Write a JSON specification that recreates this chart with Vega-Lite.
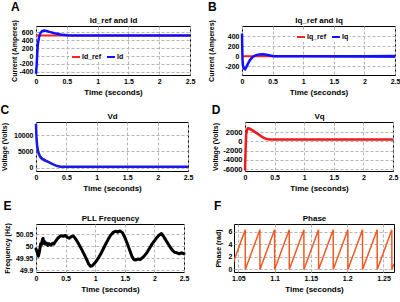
{
"$schema": "https://vega.github.io/schema/vega-lite/v6.json",
"background": "white",
"padding": {"left": 0, "top": 0, "right": 0, "bottom": 0},
"config": {
  "font": "Liberation Sans",
  "view": {"stroke": "black", "strokeWidth": 1},
  "axis": {"labelFontSize": 7, "labelFontWeight": "bold", "labelColor": "black", "titleFontWeight": "bold", "titleColor": "black", "gridColor": "#b4b4b4", "gridDash": [3, 2], "domain": false, "ticks": false, "labelOverlap": false, "labelFlush": false, "minExtent": 0},
  "axisX": {"titleFontSize": 8, "labelPadding": 2, "titlePadding": 4},
  "axisY": {"titleFontSize": 7, "labelPadding": 3},
  "title": {"fontSize": 12, "fontWeight": "bold", "color": "black", "anchor": "start", "offset": 0}
},
"resolve": {"scale": {"color": "independent"}, "legend": {"color": "independent"}},
"spacing": 6,
"vconcat": [
 {"hconcat": [
   {"width": 154, "height": 49, "title": {"text": "A", "offset": 2},
    "resolve": {"axis": {"x": "independent"}},
    "layer": [
     {"data": {"values": [{"t": 0, "v": 520, "s": "Id_ref"}, {"t": 2.5, "v": 520, "s": "Id_ref"}]},
      "mark": {"type": "line", "strokeWidth": 2},
      "encoding": {
        "x": {"field": "t", "type": "quantitative", "scale": {"domain": [0, 2.5], "nice": false}, "axis": {"orient": "bottom", "values": [0, 0.5, 1, 1.5, 2, 2.5], "tickCount": 20, "title": "Time (seconds)", "labelExpr": "'' + datum.value", "labelOverlap": false, "minExtent": 0}},
        "y": {"field": "v", "type": "quantitative", "scale": {"domain": [-480, 760], "nice": false}, "axis": {"values": [-400, -200, 0, 200, 400, 600], "tickCount": 20, "title": "Current (Amperes)", "titlePadding": 1, "labelExpr": "'' + datum.value", "labelOverlap": false, "minExtent": 0}},
        "color": {"field": "s", "type": "nominal", "scale": {"domain": ["Id_ref", "Id"], "range": ["#ff2020", "#1010ff"]},
          "legend": {"orient": "none", "legendX": 34, "legendY": 25, "direction": "horizontal", "title": null, "symbolType": "stroke", "symbolStrokeWidth": 2, "symbolSize": 64, "labelFontSize": 7, "labelFontWeight": "bold", "fillColor": "white", "padding": 1, "columnPadding": 1, "labelOffset": 1}}
      }},
     {"data": {"values": [
       {"t": 0, "v": -450, "s": "Id"}, {"t": 0.01, "v": -250, "s": "Id"}, {"t": 0.02, "v": 50, "s": "Id"}, {"t": 0.03, "v": 300, "s": "Id"},
       {"t": 0.05, "v": 480, "s": "Id"}, {"t": 0.07, "v": 580, "s": "Id"}, {"t": 0.1, "v": 630, "s": "Id"}, {"t": 0.13, "v": 645, "s": "Id"},
       {"t": 0.17, "v": 635, "s": "Id"}, {"t": 0.22, "v": 610, "s": "Id"}, {"t": 0.3, "v": 575, "s": "Id"}, {"t": 0.4, "v": 545, "s": "Id"},
       {"t": 0.5, "v": 528, "s": "Id"}, {"t": 0.6, "v": 522, "s": "Id"}, {"t": 2.5, "v": 520, "s": "Id"}]},
      "mark": {"type": "line", "strokeWidth": 2.5},
      "encoding": {
        "x": {"field": "t", "type": "quantitative", "axis": {"orient": "top", "title": "Id_ref and Id", "labels": false, "grid": false, "labelPadding": 0, "titlePadding": 2, "minExtent": 0, "maxExtent": 0}},
        "y": {"field": "v", "type": "quantitative"},
        "color": {"field": "s", "type": "nominal"}
      }}
    ]},
   {"width": 153, "height": 49, "title": {"text": "B", "offset": 2},
    "resolve": {"axis": {"x": "independent"}},
    "layer": [
     {"data": {"values": [{"t": 0, "v": 0, "s": "Iq_ref"}, {"t": 2.5, "v": 0, "s": "Iq_ref"}]},
      "mark": {"type": "line", "strokeWidth": 2},
      "encoding": {
        "x": {"field": "t", "type": "quantitative", "scale": {"domain": [0, 2.5], "nice": false}, "axis": {"orient": "bottom", "values": [0, 0.5, 1, 1.5, 2, 2.5], "tickCount": 20, "title": "Time (seconds)", "labelExpr": "'' + datum.value", "labelOverlap": false, "minExtent": 0}},
        "y": {"field": "v", "type": "quantitative", "scale": {"domain": [-370, 600], "nice": false}, "axis": {"values": [-200, 0, 200, 400], "tickCount": 20, "title": "Current (Amperes)", "titlePadding": 10, "labelExpr": "'' + datum.value", "labelOverlap": false, "minExtent": 0}},
        "color": {"field": "s", "type": "nominal", "scale": {"domain": ["Iq_ref", "Iq"], "range": ["#ff2020", "#1010ff"]},
          "legend": {"orient": "none", "legendX": 53, "legendY": 5, "direction": "horizontal", "title": null, "symbolType": "stroke", "symbolStrokeWidth": 2, "symbolSize": 64, "labelFontSize": 7, "labelFontWeight": "bold", "fillColor": "white", "padding": 1, "columnPadding": 1, "labelOffset": 1}}
      }},
     {"data": {"values": [
       {"t": 0, "v": 450, "s": "Iq"}, {"t": 0.004, "v": 200, "s": "Iq"}, {"t": 0.008, "v": -50, "s": "Iq"}, {"t": 0.015, "v": -180, "s": "Iq"},
       {"t": 0.03, "v": -240, "s": "Iq"}, {"t": 0.05, "v": -255, "s": "Iq"}, {"t": 0.07, "v": -215, "s": "Iq"}, {"t": 0.1, "v": -140, "s": "Iq"},
       {"t": 0.13, "v": -75, "s": "Iq"}, {"t": 0.17, "v": -20, "s": "Iq"}, {"t": 0.22, "v": 20, "s": "Iq"}, {"t": 0.28, "v": 38, "s": "Iq"},
       {"t": 0.34, "v": 42, "s": "Iq"}, {"t": 0.4, "v": 32, "s": "Iq"}, {"t": 0.46, "v": 15, "s": "Iq"}, {"t": 0.52, "v": 3, "s": "Iq"},
       {"t": 0.6, "v": 0, "s": "Iq"}, {"t": 2.5, "v": 0, "s": "Iq"}]},
      "mark": {"type": "line", "strokeWidth": 2.5},
      "encoding": {
        "x": {"field": "t", "type": "quantitative", "axis": {"orient": "top", "title": "Iq_ref and Iq", "labels": false, "grid": false, "labelPadding": 0, "titlePadding": 2, "minExtent": 0, "maxExtent": 0}},
        "y": {"field": "v", "type": "quantitative"},
        "color": {"field": "s", "type": "nominal"}
      }},
     {"data": {"values": [
       {"t": 0.5, "lo": -8, "hi": 8}, {"t": 1, "lo": -15, "hi": 15}, {"t": 1.5, "lo": -20, "hi": 20}, {"t": 2, "lo": -25, "hi": 25}, {"t": 2.5, "lo": -30, "hi": 30}]},
      "mark": {"type": "area", "color": "#1010ff"},
      "encoding": {
        "y": {"field": "lo", "type": "quantitative"},
        "y2": {"field": "hi"},
        "x": {"field": "t", "type": "quantitative", "axis": null}
      }}
    ]}
 ], "spacing": 11, "resolve": {"scale": {"color": "independent"}, "legend": {"color": "independent"}}},
 {"hconcat": [
   {"width": 152, "height": 49, "title": {"text": "C", "offset": -5},
    "resolve": {"axis": {"x": "independent"}},
    "layer": [
     {"data": {"values": [
       {"t": 0.02, "lo": 5800, "hi": 7400}, {"t": 0.05, "lo": 3700, "hi": 4900}, {"t": 0.08, "lo": 2800, "hi": 3700}, {"t": 0.12, "lo": 2200, "hi": 3000},
       {"t": 0.18, "lo": 1700, "hi": 2400}, {"t": 0.24, "lo": 1150, "hi": 1750}, {"t": 0.3, "lo": 650, "hi": 1100}, {"t": 0.36, "lo": 380, "hi": 620}, {"t": 0.42, "lo": 260, "hi": 380}]},
      "mark": {"type": "area", "color": "#1a1ae6"},
      "encoding": {
        "x": {"field": "t", "type": "quantitative", "scale": {"domain": [0, 2.5], "nice": false}, "axis": {"orient": "bottom", "values": [0, 0.5, 1, 1.5, 2, 2.5], "tickCount": 20, "title": "Time (seconds)", "labelExpr": "'' + datum.value", "labelOverlap": false, "minExtent": 0}},
        "y": {"field": "lo", "type": "quantitative", "scale": {"domain": [-1000, 14000], "nice": false}, "axis": {"values": [0, 5000, 10000], "tickCount": 20, "title": "Voltage (Volts)", "titlePadding": 6, "labelExpr": "'' + datum.value", "labelOverlap": false, "minExtent": 0}},
        "y2": {"field": "hi"}
      }},
     {"data": {"values": [
       {"t": 0, "v": 13500}, {"t": 0.004, "v": 11000}, {"t": 0.01, "v": 8500}, {"t": 0.02, "v": 6500}, {"t": 0.04, "v": 4500}, {"t": 0.07, "v": 3300},
       {"t": 0.1, "v": 2700}, {"t": 0.15, "v": 2200}, {"t": 0.2, "v": 1800}, {"t": 0.25, "v": 1300}, {"t": 0.3, "v": 850}, {"t": 0.35, "v": 500},
       {"t": 0.4, "v": 330}, {"t": 0.45, "v": 300}, {"t": 2.5, "v": 300}]},
      "mark": {"type": "line", "strokeWidth": 2.5, "color": "#1a1ae6"},
      "encoding": {
        "x": {"field": "t", "type": "quantitative", "axis": {"orient": "top", "title": "Vd", "labels": false, "grid": false, "labelPadding": 0, "titlePadding": 2, "minExtent": 0, "maxExtent": 0}},
        "y": {"field": "v", "type": "quantitative"}
      }}
    ]},
   {"width": 148, "height": 49, "title": {"text": "D", "offset": -5},
    "resolve": {"axis": {"x": "independent"}},
    "layer": [
     {"data": {"values": [
       {"t": 0.03, "lo": 2200, "hi": 3000}, {"t": 0.06, "lo": 2450, "hi": 3100}, {"t": 0.1, "lo": 2300, "hi": 2900}, {"t": 0.15, "lo": 1900, "hi": 2450},
       {"t": 0.2, "lo": 1500, "hi": 2000}, {"t": 0.25, "lo": 1100, "hi": 1500}, {"t": 0.3, "lo": 700, "hi": 1050}, {"t": 0.35, "lo": 450, "hi": 650}, {"t": 0.4, "lo": 380, "hi": 480}]},
      "mark": {"type": "area", "color": "#ee1c1c"},
      "encoding": {
        "x": {"field": "t", "type": "quantitative", "scale": {"domain": [0, 2.5], "nice": false}, "axis": {"orient": "bottom", "values": [0, 0.5, 1, 1.5, 2, 2.5], "tickCount": 20, "title": "Time (seconds)", "labelExpr": "'' + datum.value", "labelOverlap": false, "minExtent": 0}},
        "y": {"field": "lo", "type": "quantitative", "scale": {"domain": [-6400, 4200], "nice": false}, "axis": {"values": [-6000, -4000, -2000, 0, 2000], "tickCount": 20, "title": "Voltage (Volts)", "titlePadding": 4, "labelPadding": 3, "labelFontSize": 7.5, "labelExpr": "'' + datum.value", "labelOverlap": false, "minExtent": 0}},
        "y2": {"field": "hi"}
      }},
     {"data": {"values": [
       {"t": 0, "v": -6300}, {"t": 0.005, "v": -4000}, {"t": 0.012, "v": -1000}, {"t": 0.02, "v": 1500}, {"t": 0.035, "v": 2600}, {"t": 0.05, "v": 2850},
       {"t": 0.08, "v": 2700}, {"t": 0.12, "v": 2450}, {"t": 0.17, "v": 2050}, {"t": 0.22, "v": 1600}, {"t": 0.27, "v": 1150}, {"t": 0.32, "v": 750},
       {"t": 0.37, "v": 500}, {"t": 0.42, "v": 420}, {"t": 2.5, "v": 420}]},
      "mark": {"type": "line", "strokeWidth": 2.5, "color": "#ee1c1c"},
      "encoding": {
        "x": {"field": "t", "type": "quantitative", "axis": {"orient": "top", "title": "Vq", "labels": false, "grid": false, "labelPadding": 0, "titlePadding": 2, "minExtent": 0, "maxExtent": 0}},
        "y": {"field": "v", "type": "quantitative"}
      }}
    ]}
 ], "spacing": 17, "resolve": {"scale": {"color": "independent"}, "legend": {"color": "independent"}}},
 {"hconcat": [
   {"width": 148, "height": 48, "title": {"text": "E", "offset": 1},
    "resolve": {"axis": {"x": "independent"}},
    "layer": [
     {"data": {"values": [
      {"t": 0, "f": 49.988}, {"t": 0.01, "f": 49.982}, {"t": 0.02, "f": 49.975}, {"t": 0.03, "f": 49.965}, {"t": 0.04, "f": 49.958}, {"t": 0.05, "f": 49.968},
      {"t": 0.06, "f": 49.98}, {"t": 0.07, "f": 49.995}, {"t": 0.08, "f": 50.01}, {"t": 0.09, "f": 50.005}, {"t": 0.1, "f": 50.018}, {"t": 0.11, "f": 50.028},
      {"t": 0.12, "f": 50.032}, {"t": 0.13, "f": 50.012}, {"t": 0.14, "f": 50.02}, {"t": 0.16, "f": 50.008}, {"t": 0.18, "f": 50.012}, {"t": 0.2, "f": 50.003},
      {"t": 0.22, "f": 50.01}, {"t": 0.25, "f": 50.004}, {"t": 0.28, "f": 50.012}, {"t": 0.3, "f": 50.008}, {"t": 0.33, "f": 50.02}, {"t": 0.36, "f": 50.03},
      {"t": 0.39, "f": 50.038}, {"t": 0.42, "f": 50.043}, {"t": 0.46, "f": 50.041}, {"t": 0.5, "f": 50.044}, {"t": 0.53, "f": 50.036}, {"t": 0.56, "f": 50.033},
      {"t": 0.6, "f": 50.04}, {"t": 0.63, "f": 50.042}, {"t": 0.66, "f": 50.033}, {"t": 0.7, "f": 50.018}, {"t": 0.74, "f": 50.0}, {"t": 0.78, "f": 49.982},
      {"t": 0.82, "f": 49.962}, {"t": 0.86, "f": 49.942}, {"t": 0.89, "f": 49.925}, {"t": 0.92, "f": 49.916}, {"t": 0.95, "f": 49.918}, {"t": 0.98, "f": 49.926},
      {"t": 1.02, "f": 49.938}, {"t": 1.06, "f": 49.953}, {"t": 1.1, "f": 49.97}, {"t": 1.14, "f": 49.99}, {"t": 1.18, "f": 50.01}, {"t": 1.22, "f": 50.028},
      {"t": 1.26, "f": 50.045}, {"t": 1.3, "f": 50.056}]},
      "mark": {"type": "line", "strokeWidth": 3, "color": "black", "strokeJoin": "round", "strokeCap": "round"},
      "encoding": {
        "x": {"field": "t", "type": "quantitative", "scale": {"domain": [0, 2.5], "nice": false}, "axis": {"orient": "bottom", "values": [0, 0.5, 1, 1.5, 2, 2.5], "tickCount": 20, "title": "Time (seconds)", "labelExpr": "'' + datum.value", "labelOverlap": false, "minExtent": 0}},
        "y": {"field": "f", "type": "quantitative", "scale": {"domain": [49.892, 50.092], "nice": false, "zero": false}, "axis": {"values": [49.9, 49.95, 50, 50.05], "tickCount": 20, "title": "Frequency (Hz)", "titlePadding": 5, "labelExpr": "'' + datum.value", "labelOverlap": false, "minExtent": 0}}
      }},
     {"data": {"values": [
      {"t": 1.3, "f": 50.056}, {"t": 1.34, "f": 50.062}, {"t": 1.38, "f": 50.058}, {"t": 1.42, "f": 50.063}, {"t": 1.46, "f": 50.056},
      {"t": 1.5, "f": 50.036}, {"t": 1.54, "f": 50.012}, {"t": 1.58, "f": 49.985}, {"t": 1.62, "f": 49.958}, {"t": 1.65, "f": 49.945}, {"t": 1.68, "f": 49.942},
      {"t": 1.72, "f": 49.946}, {"t": 1.76, "f": 49.944}, {"t": 1.8, "f": 49.952}, {"t": 1.84, "f": 49.962}, {"t": 1.88, "f": 49.975}, {"t": 1.92, "f": 49.992},
      {"t": 1.96, "f": 50.008}, {"t": 2.0, "f": 50.022}, {"t": 2.04, "f": 50.035}, {"t": 2.08, "f": 50.046}, {"t": 2.12, "f": 50.052}, {"t": 2.15, "f": 50.042},
      {"t": 2.18, "f": 50.03}, {"t": 2.22, "f": 50.014}, {"t": 2.26, "f": 49.998}, {"t": 2.3, "f": 49.984}, {"t": 2.34, "f": 49.974}, {"t": 2.38, "f": 49.972},
      {"t": 2.42, "f": 49.968}, {"t": 2.46, "f": 49.972}, {"t": 2.5, "f": 49.968}]},
      "mark": {"type": "line", "strokeWidth": 3, "color": "black", "strokeJoin": "round", "strokeCap": "round"},
      "encoding": {
        "x": {"field": "t", "type": "quantitative", "axis": {"orient": "top", "title": "PLL Frequency", "labels": false, "grid": false, "labelPadding": 0, "titlePadding": 2, "minExtent": 0, "maxExtent": 0}},
        "y": {"field": "f", "type": "quantitative"}
      }}
    ]},
   {"width": 160, "height": 48, "title": {"text": "F", "offset": 1},
    "resolve": {"axis": {"x": "independent"}},
    "layer": [
     {"data": {"values": [
      {"t": 1.0395, "p": 0}, {"t": 1.0595, "p": 6.28}, {"t": 1.0596, "p": 0}, {"t": 1.0797, "p": 6.28}, {"t": 1.0798, "p": 0},
      {"t": 1.0999, "p": 6.28}, {"t": 1.1, "p": 0}, {"t": 1.1201, "p": 6.28}, {"t": 1.1202, "p": 0}, {"t": 1.1403, "p": 6.28}, {"t": 1.1404, "p": 0}]},
      "mark": {"type": "line", "strokeWidth": 1.5, "color": "#ee5a24", "clip": true},
      "encoding": {
        "x": {"field": "t", "type": "quantitative", "scale": {"domain": [1.044, 1.2645], "nice": false, "zero": false}, "axis": {"orient": "bottom", "values": [1.05, 1.1, 1.15, 1.2, 1.25], "tickCount": 20, "title": "Time (seconds)", "labelExpr": "'' + datum.value", "labelOverlap": false, "minExtent": 0}},
        "y": {"field": "p", "type": "quantitative", "scale": {"domain": [-0.4, 7.2], "nice": false}, "axis": {"values": [0, 2, 4, 6], "tickCount": 20, "title": "Phase (rad)", "titlePadding": 7, "labelPadding": 2, "labelExpr": "'' + datum.value", "labelOverlap": false, "minExtent": 0}}
      }},
     {"data": {"values": [
      {"t": 1.1404, "p": 0}, {"t": 1.1605, "p": 6.28}, {"t": 1.1606, "p": 0}, {"t": 1.1807, "p": 6.28}, {"t": 1.1808, "p": 0}, {"t": 1.2009, "p": 6.28}, {"t": 1.201, "p": 0},
      {"t": 1.2211, "p": 6.28}, {"t": 1.2212, "p": 0}, {"t": 1.2413, "p": 6.28}, {"t": 1.2414, "p": 0}, {"t": 1.2615, "p": 6.28}, {"t": 1.2616, "p": 0},
      {"t": 1.2645, "p": 0.9}]},
      "mark": {"type": "line", "strokeWidth": 1.5, "color": "#ee5a24", "clip": true},
      "encoding": {
        "x": {"field": "t", "type": "quantitative", "axis": {"orient": "top", "title": "Phase", "labels": false, "grid": false, "labelPadding": 0, "titlePadding": 2, "minExtent": 0, "maxExtent": 0}},
        "y": {"field": "p", "type": "quantitative"}
      }}
    ]}
 ], "spacing": 23, "resolve": {"scale": {"color": "independent"}, "legend": {"color": "independent"}}}
]
}
